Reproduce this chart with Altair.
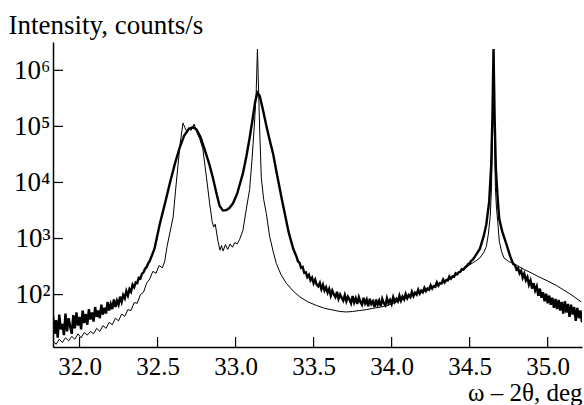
import altair as alt
import pandas as pd

# Thick curve (angle in deg, intensity in counts/s)
thick_left_x = [31.83, 31.84, 31.85, 31.86, 31.87, 31.88, 31.89, 31.90, 31.91, 31.92,
                31.93, 31.94, 31.95, 31.96, 31.97, 31.98, 31.99, 32.00, 32.01, 32.02,
                32.03, 32.04, 32.05, 32.06, 32.07, 32.08, 32.09, 32.10, 32.11, 32.12,
                32.13, 32.14, 32.15, 32.16, 32.17, 32.18, 32.19, 32.20, 32.21, 32.22,
                32.23, 32.24, 32.25, 32.26, 32.27, 32.28, 32.29, 32.30, 32.31, 32.32,
                32.33, 32.34, 32.35, 32.36, 32.37, 32.38, 32.39, 32.40, 32.41, 32.42,
                32.43, 32.44, 32.45]
thick_left_y = [42, 20, 35, 17, 44, 24, 30, 19, 46, 22,
                38, 27, 20, 43, 25, 48, 28, 40, 24, 52,
                31, 45, 29, 55, 36, 48, 33, 60, 40, 52,
                38, 66, 44, 58, 46, 74, 52, 68, 55, 82,
                60, 78, 66, 92, 74, 98, 86, 115, 96, 125,
                112, 150, 135, 165, 160, 200, 195, 235, 250, 290,
                310, 360, 400]

thick_peaks_x = [32.48, 32.514, 32.55, 32.578, 32.61, 32.642, 32.67, 32.70, 32.727, 32.75,
                 32.775, 32.80, 32.83, 32.855, 32.88, 32.898, 32.919, 32.94, 32.96, 32.983,
                 33.01, 33.047, 33.07, 33.09, 33.11, 33.125, 33.14, 33.155, 33.175, 33.20,
                 33.22, 33.24, 33.265, 33.30, 33.34, 33.37]
thick_peaks_y = [650, 1800, 4500, 9500, 21000, 42000, 68000, 90000, 97000, 88000,
                 65000, 40000, 22000, 12000, 6000, 3800, 3150, 3200, 3500, 4200,
                 6300, 14500, 30000, 62000, 140000, 270000, 400000, 350000, 200000, 95000,
                 55000, 33000, 14000, 4500, 1300, 650]

thick_mid_x = [33.39, 33.40, 33.41, 33.42, 33.43, 33.44, 33.45, 33.46, 33.47, 33.48,
               33.49, 33.50, 33.51, 33.52, 33.53, 33.54, 33.55, 33.56, 33.57, 33.58,
               33.59, 33.60, 33.61, 33.62, 33.63, 33.64, 33.65, 33.66, 33.67, 33.68,
               33.69, 33.70, 33.71, 33.72, 33.73, 33.74, 33.75, 33.76, 33.77, 33.78,
               33.79, 33.80, 33.81, 33.82, 33.83, 33.84, 33.85, 33.86, 33.87, 33.88,
               33.89, 33.90, 33.91, 33.92, 33.93, 33.94, 33.95, 33.96, 33.97, 33.98,
               33.99, 34.00, 34.01, 34.02, 34.03, 34.04, 34.05, 34.06, 34.07, 34.08,
               34.09, 34.10, 34.11, 34.12, 34.13, 34.14, 34.15, 34.16, 34.17, 34.18,
               34.19, 34.20, 34.21, 34.22, 34.23, 34.24, 34.25, 34.26, 34.27, 34.28,
               34.29, 34.30, 34.31, 34.32, 34.33, 34.34, 34.35, 34.36, 34.37, 34.38,
               34.39, 34.40, 34.41, 34.42, 34.43, 34.44, 34.45, 34.46, 34.47, 34.48,
               34.49, 34.50, 34.51, 34.52, 34.53]
thick_mid_y = [480, 390, 370, 300, 310, 245, 250, 205, 225, 180,
               200, 160, 185, 150, 140, 162, 125, 150, 118, 135,
               108, 126, 96, 118, 100, 90, 112, 84, 100, 88,
               78, 98, 76, 92, 82, 70, 94, 72, 86, 68,
               90, 74, 66, 88, 70, 82, 62, 84, 68, 76,
               60, 82, 66, 78, 62, 84, 70, 64, 86, 70,
               80, 68, 90, 74, 84, 76, 96, 78, 92, 82,
               102, 86, 98, 90, 112, 94, 108, 100, 122, 104,
               118, 110, 132, 116, 128, 122, 146, 128, 142, 138,
               165, 145, 160, 158, 186, 165, 182, 180, 210, 192,
               212, 208, 240, 230, 250, 255, 285, 280, 305, 320,
               350, 360, 400, 420, 460]

thick_peak3_x = [34.565, 34.59, 34.607, 34.625, 34.638, 34.646, 34.653, 34.66, 34.668, 34.68,
                 34.69, 34.71, 34.735, 34.76, 34.78]
thick_peak3_y = [650, 1100, 1800, 4500, 20000, 150000, 2400000, 150000, 18000, 5000,
                 2200, 1300, 800, 480, 350]

thick_right_x = [34.79, 34.80, 34.81, 34.82, 34.83, 34.84, 34.85, 34.86, 34.87, 34.88,
                 34.89, 34.90, 34.91, 34.92, 34.93, 34.94, 34.95, 34.96, 34.97, 34.98,
                 34.99, 35.00, 35.01, 35.02, 35.03, 35.04, 35.05, 35.06, 35.07, 35.08,
                 35.09, 35.10, 35.11, 35.12, 35.13, 35.14, 35.15, 35.16, 35.17, 35.18,
                 35.19, 35.20, 35.21, 35.22]
thick_right_y = [340, 280, 300, 240, 265, 200, 235, 180, 205, 150,
                 178, 128, 160, 118, 140, 95, 128, 88, 110, 76,
                 104, 70, 96, 66, 88, 58, 84, 55, 80, 52,
                 74, 46, 76, 48, 68, 40, 66, 44, 60, 34,
                 58, 38, 52, 32]

# Thin curve
thin_x = [31.83, 31.85, 31.87, 31.89, 31.91, 31.93, 31.95, 31.97, 31.99, 32.01,
          32.03, 32.05, 32.07, 32.09, 32.11, 32.13, 32.15, 32.17, 32.19, 32.21,
          32.23, 32.25, 32.27, 32.29, 32.31, 32.33, 32.35, 32.37, 32.39, 32.41,
          32.43, 32.45, 32.47, 32.49, 32.51, 32.53, 32.545, 32.56, 32.578, 32.60,
          32.615, 32.63, 32.645, 32.663, 32.675, 32.69, 32.70, 32.715, 32.735, 32.75,
          32.77, 32.79, 32.813, 32.834, 32.85, 32.86, 32.87, 32.887, 32.90, 32.91,
          32.92, 32.935, 32.95, 32.965, 32.98, 32.995, 33.01, 33.025, 33.047, 33.07,
          33.09, 33.105, 33.12, 33.132, 33.14, 33.148, 33.155, 33.165, 33.18, 33.197,
          33.218, 33.24, 33.261, 33.29, 33.325, 33.37, 33.41, 33.46, 33.518, 33.57,
          33.624, 33.67, 33.71, 33.75, 33.795, 33.84, 33.88, 33.93, 33.966, 34.0,
          34.05, 34.1, 34.15, 34.2, 34.25, 34.31, 34.36, 34.415, 34.46, 34.5,
          34.535, 34.565, 34.59, 34.607, 34.62, 34.632, 34.64, 34.647, 34.653, 34.659,
          34.665, 34.672, 34.68, 34.69, 34.705, 34.72, 34.75, 34.785, 34.85, 34.9,
          34.945, 35.0, 35.055, 35.1, 35.15, 35.215]
thin_y = [15, 13, 16, 14, 17, 15, 18, 16, 20, 17,
          21, 19, 22, 20, 25, 22, 28, 25, 32, 29,
          38, 34, 45, 41, 54, 52, 72, 70, 100, 110,
          160, 190, 260, 240, 330, 300, 380, 700, 1230, 2430,
          7000, 19000, 50000, 115000, 95000, 78000, 95000, 85000, 110000, 80000,
          60000, 40000, 12600, 4200, 2000, 1600, 1800, 900, 620, 750,
          600, 780, 640, 800, 700, 850, 800, 950, 1400, 3500,
          7500, 25000, 100000, 400000, 2400000, 400000, 80000, 12000, 5000, 2800,
          1100, 600, 360, 230, 160, 115, 92, 75, 64, 57,
          53, 50, 49, 50, 52, 54, 57, 60, 63, 68,
          78, 88, 100, 113, 128, 152, 180, 225, 280, 340,
          390, 450, 560, 720, 1200, 2500, 8000, 80000, 2400000, 80000,
          8000, 3500, 2000, 900, 580, 450, 390, 355, 280, 240,
          206, 175, 146, 122, 100, 74]

x_ticks = [32.0, 32.5, 33.0, 33.5, 34.0, 34.5, 35.0]
y_ticks = [1e2, 1e3, 1e4, 1e5, 1e6]

x_domain = [31.83, 35.22]
y_domain = [11.63, 3.2e6]

W, H = 529, 305
FONT = "Liberation Serif"

thick_df = pd.DataFrame({
    "x": thick_left_x + thick_peaks_x + thick_mid_x + thick_peak3_x + thick_right_x,
    "y": thick_left_y + thick_peaks_y + thick_mid_y + thick_peak3_y + thick_right_y,
})
thin_df = pd.DataFrame({"x": thin_x, "y": thin_y})
xt_df = pd.DataFrame({"x": x_ticks})
yt_df = pd.DataFrame({"y": y_ticks})

xscale = alt.Scale(domain=x_domain, nice=False, zero=False)
yscale = alt.Scale(type="log", domain=y_domain, nice=False)

ylab = ("datum.value == 100 ? '10\u00b2' : datum.value == 1000 ? '10\u00b3' : "
        "datum.value == 10000 ? '10\u2074' : datum.value == 100000 ? '10\u2075' : '10\u2076'")

xaxis = alt.Axis(values=x_ticks, format=".1f", ticks=False, grid=False,
                 labelFont=FONT, labelFontSize=25, labelBaseline="alphabetic",
                 labelPadding=27, labelColor="black",
                 title="\u03c9 \u2013 2\u03b8, deg", titleFont=FONT, titleFontSize=25,
                 titleFontWeight="normal", titleColor="black",
                 titleAlign="right", titleAnchor="end", titleBaseline="alphabetic",
                 titleX=W, titleY=53, domainColor="black", domainWidth=1.5)
yaxis = alt.Axis(values=y_ticks, labelExpr=ylab, ticks=False, grid=False,
                 labelFont=FONT, labelFontSize=27, labelPadding=3, labelColor="black",
                 title="Intensity, counts/s", titleFont=FONT, titleFontSize=27,
                 titleFontWeight="normal", titleColor="black", titleAngle=0,
                 titleAlign="left", titleBaseline="alphabetic",
                 titleX=-45, titleY=-9, domainColor="black", domainWidth=1.5)

X = alt.X("x:Q", scale=xscale, axis=xaxis)
Y = alt.Y("y:Q", scale=yscale, axis=yaxis)

thin = alt.Chart(thin_df).mark_line(color="black", strokeWidth=1.0, clip=True).encode(x=X, y=Y)
thick = alt.Chart(thick_df).mark_line(color="black", strokeWidth=2.4, clip=True).encode(x=X, y=Y)
xt = alt.Chart(xt_df).mark_rule(color="black", strokeWidth=1.2).encode(
    x=X, y=alt.value(H), y2=alt.value(H - 10),
)
yt = alt.Chart(yt_df).mark_rule(color="black", strokeWidth=1.2).encode(
    y=Y, x=alt.value(0), x2=alt.value(10),
)

chart = alt.layer(thin, thick, xt, yt).properties(
    width=W, height=H,
    autosize=alt.AutoSizeParams(type="none"),
    padding={"left": 53, "top": 42, "right": 2, "bottom": 58},
    background="white",
).configure_view(stroke=None).configure_axis(
    labelFont=FONT, titleFont=FONT,
)

chart.save("out.html", embed_options={"renderer": "svg", "actions": False})
